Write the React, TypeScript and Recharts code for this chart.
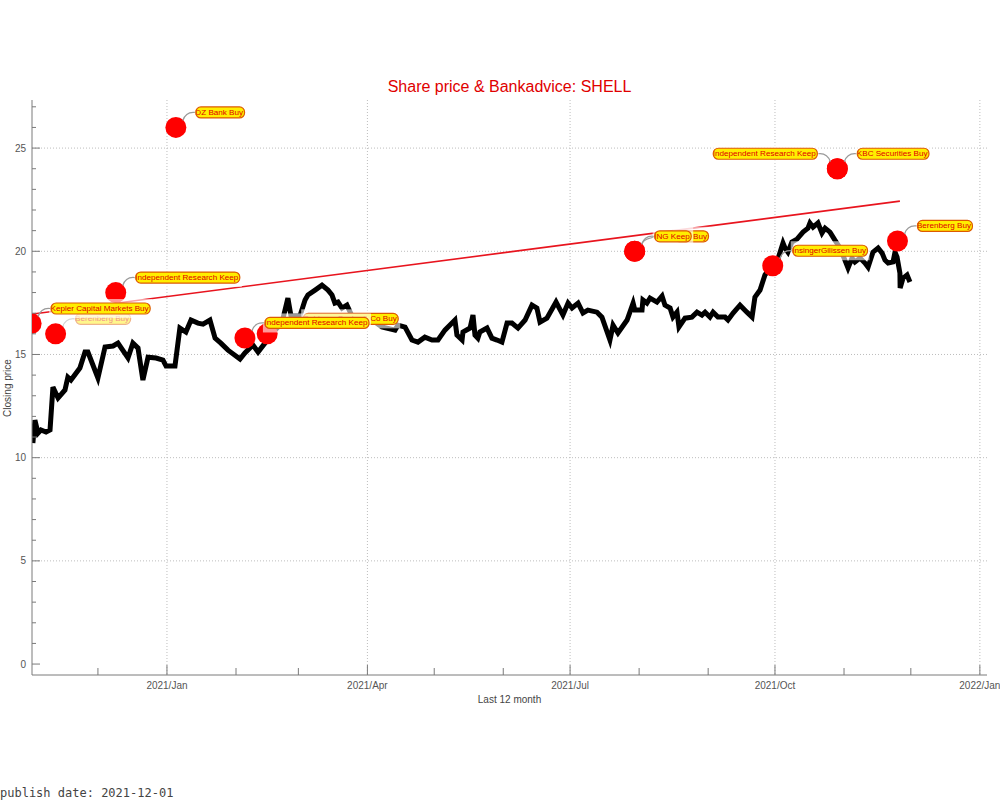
import {
  CartesianGrid,
  ComposedChart,
  Line,
  Scatter,
  XAxis,
  YAxis,
} from 'recharts';

// x values are days counted from 2021-01-01
const X_MIN = -60.6;
const X_MAX = 368.2;
const Y_MIN = -0.53;
const Y_MAX = 27.33;

const MONTH_TICKS = [-31, 0, 31, 59, 90, 120, 151, 181, 212, 243, 273, 304, 334, 365];
const MAJOR_X = [0, 90, 181, 273, 365];
const MAJOR_X_LABELS = ['2021/Jan', '2021/Apr', '2021/Jul', '2021/Oct', '2022/Jan'];
const Y_TICKS = Array.from({ length: 28 }, (_, i) => i);
const Y_GRID = [5, 10, 15, 20, 25];

// closing price
const PRICE_DAY = [
  -60.2, -59.3, -57.9, -56.6, -54.3, -52.5, -51.2, -48.9, -45.8, -44.5,
  -43.1, -39.1, -36.8, -35.5, -31.0, -27.8, -24.2, -22.0, -17.5, -15.3,
  -13.0, -10.8, -8.5, -4.9, -1.8, -0.4, 3.6, 5.8, 8.5, 10.8,
  13.9, 16.2, 19.3, 21.6, 24.2, 27.4, 32.8, 35.0, 38.6, 40.9,
  44.0, 48.5, 51.6, 54.3, 55.7, 59.7, 62.0, 63.3, 66.5, 69.6,
  72.3, 74.1, 75.4, 76.8, 78.6, 80.8, 83.1, 88.9, 92.1, 96.5,
  102.4, 103.7, 106.9, 110.0, 112.7, 115.8, 119.0, 121.7, 124.8, 129.3,
  130.2, 132.5, 132.9, 136.1, 137.4, 138.3, 139.6, 140.5, 143.7, 145.9,
  148.2, 150.4, 152.7, 154.9, 157.6, 160.8, 163.9, 166.1, 167.5, 170.6,
  174.7, 177.8, 180.1, 181.9, 184.6, 186.8, 189.0, 193.1, 195.3, 198.9,
  200.3, 202.5, 206.6, 209.3, 210.1, 213.3, 213.7, 215.5, 216.9, 220.0,
  222.3, 223.6, 225.9, 227.2, 229.0, 229.9, 232.6, 235.7, 238.0, 240.2,
  241.6, 243.8, 245.2, 247.4, 250.6, 251.9, 254.2, 257.3, 260.4, 262.7,
  264.0, 266.3, 268.5, 270.8, 273.9, 276.6, 277.5, 278.8, 280.6, 282.9,
  285.6, 287.8, 288.7, 290.1, 292.3, 294.1, 295.5, 297.7, 299.9, 302.2,
  304.4, 305.8, 307.6, 308.9, 311.2, 313.4, 314.8, 317.0, 319.3, 321.1,
  322.4, 323.8, 326.0, 326.9, 327.8, 329.1, 329.2, 330.5, 332.3, 333.6,
];
const PRICE_CLOSE = [
  10.71, 11.82, 11.19, 11.34, 11.24, 11.34, 13.42, 12.89, 13.28, 13.9,
  13.76, 14.34, 15.12, 15.12, 13.86, 15.36, 15.41, 15.55, 14.83, 15.55,
  15.31, 13.76, 14.87, 14.83, 14.73, 14.44, 14.44, 16.28, 16.09, 16.67,
  16.52, 16.47, 16.67, 15.79, 15.55, 15.21, 14.78, 15.07, 15.46, 15.12,
  15.55, 16.18, 16.52, 17.73, 16.86, 16.86, 17.64, 17.88, 18.12, 18.36,
  18.12, 17.88, 17.49, 17.54, 17.25, 17.39, 16.86, 16.76, 16.67, 16.33,
  16.18, 16.42, 16.33, 15.7, 15.6, 15.84, 15.7, 15.7, 16.18, 16.67,
  15.94, 15.7, 16.09, 16.28, 16.91, 15.94, 15.79, 16.09, 16.28, 15.79,
  15.7, 15.6, 16.52, 16.52, 16.28, 16.67, 17.39, 17.25, 16.57, 16.76,
  17.54, 16.91, 17.49, 17.25, 17.49, 17.01, 17.15, 17.05, 16.81, 15.7,
  16.42, 16.04, 16.67, 17.49, 17.15, 17.15, 17.64, 17.49, 17.73, 17.54,
  17.83, 17.39, 17.25, 16.81, 17.05, 16.33, 16.76, 16.81, 17.05, 16.91,
  17.05, 16.81, 17.05, 16.81, 16.81, 16.67, 17.01, 17.39, 17.05, 16.81,
  17.78, 18.12, 18.85, 19.19, 19.48, 20.4, 20.16, 19.96, 20.45, 20.59,
  20.93, 21.12, 21.37, 21.17, 21.37, 20.88, 21.12, 20.93, 20.54, 20.16,
  19.57, 19.19, 19.67, 19.48, 19.67, 19.43, 19.23, 19.96, 20.16, 19.91,
  19.57, 19.43, 19.48, 19.96, 19.72, 18.94, 18.22, 18.7, 18.85, 18.51,
];

// trend of the price targets
const TREND_DAY = [-60.2, 329.1];
const TREND_VALUE = [16.96, 22.43];

// bank advice: date, price target, text
const ADVICE_DATE = [
  '2020-11-01', '2020-11-12', '2020-12-09', '2021-01-05', '2021-02-05', '2021-02-15',
  '2021-07-30', '2021-07-30', '2021-09-30', '2021-10-29', '2021-10-29', '2021-11-25',
];
const ADVICE_TARGET = [16.5, 16.0, 18.0, 26.0, 15.8, 16.0, 20.0, 20.0, 19.3, 24.0, 24.0, 20.5];
const ADVICE_TEXT = [
  'Kepler Capital Markets Buy', 'Berenberg Buy', 'Independent Research Keep', 'DZ Bank Buy',
  'Independent Research Keep', 'Goldman Sachs & Co Buy', 'ING Keep', 'UBS Buy',
  'InsingerGilissen Buy', 'Independent Research Keep', 'KBC Securities Buy', 'Berenberg Buy',
];

// label placement: drawing order, side of the callout, sideways shift, faded labels
const LABEL_ORDER = [1, 0, 2, 3, 5, 4, 7, 6, 8, 9, 10, 11];
const LABEL_SIDE: Record<number, number> = { 9: -1 };
const LABEL_SHIFT: Record<number, number> = { 5: 16, 7: 20 };
const LABEL_FADED: Record<number, boolean> = { 1: true };

const FRAME = '#7a7a7a';
const TICK_TEXT = '#555';
const LABEL_FONT = 8.1;

const dayOf = (iso: string) => (Date.parse(iso) - Date.parse('2021-01-01')) / 864e5;

const priceData = PRICE_DAY.map((d, i) => ({ day: d, price: PRICE_CLOSE[i] }));
const trendData = TREND_DAY.map((d, i) => ({ day: d, trend: TREND_VALUE[i] }));
const adviceData = ADVICE_DATE.map((d, i) => ({
  day: dayOf(d),
  target: ADVICE_TARGET[i],
  text: ADVICE_TEXT[i],
  idx: i,
}));
const labelData = LABEL_ORDER.map((i) => adviceData[i]);

let measureCtx: CanvasRenderingContext2D | null = null;
function textWidth(s: string): number {
  if (!measureCtx) measureCtx = document.createElement('canvas').getContext('2d');
  if (!measureCtx) return s.length * 4.5;
  measureCtx.font = `${LABEL_FONT}px "Liberation Sans"`;
  return measureCtx.measureText(s).width;
}

function BottomTick({ x, y, payload }: any) {
  const v = payload.value;
  const k = MAJOR_X.indexOf(v);
  return (
    <g>
      <line x1={x} x2={x} y1={y} y2={y - (k >= 0 ? 10 : 7)} stroke={FRAME} />
      {k >= 0 && (
        <text x={x} y={y + 10} textAnchor="middle" dominantBaseline="central" fontSize={10} fill={TICK_TEXT}>
          {MAJOR_X_LABELS[k]}
        </text>
      )}
    </g>
  );
}

function TopTick({ x, y, payload }: any) {
  const major = MAJOR_X.includes(payload.value);
  return <line x1={x} x2={x} y1={y} y2={y + (major ? 10 : 7)} stroke={FRAME} />;
}

function LeftTick({ x, y, payload }: any) {
  const v = payload.value;
  const major = v % 5 === 0;
  return (
    <g>
      <line x1={x} x2={x + (major ? 8 : 4)} y1={y} y2={y} stroke={FRAME} />
      {major && (
        <text x={x - 6} y={y} textAnchor="end" dominantBaseline="central" fontSize={10} fill={TICK_TEXT}>
          {v}
        </text>
      )}
    </g>
  );
}

function RightTick({ x, y, payload }: any) {
  const major = payload.value % 5 === 0;
  return <line x1={x} x2={x - (major ? 8 : 4)} y1={y} y2={y} stroke={FRAME} />;
}

function AdviceDot({ cx, cy }: any) {
  return <circle cx={cx} cy={cy} r={10.5} fill="#ff0000" />;
}

function AdviceLabel({ cx, cy, payload }: any) {
  const side = LABEL_SIDE[payload.idx] ?? 1;
  const shift = LABEL_SHIFT[payload.idx] ?? 0;
  const w = textWidth(payload.text) + 1;
  const h = 11;
  const ly = cy - 15;
  const left = side > 0 ? cx + 20 + shift : cx - 20 - w;
  const edge = side > 0 ? left : left + w;
  const sx = cx + side * 7;
  const sy = cy - 7;
  return (
    <g opacity={LABEL_FADED[payload.idx] ? 0.45 : 1}>
      <rect x={left - 2} y={ly - h / 2 - 4} width={w + 4} height={h + 8} fill="#fff" fillOpacity={0.6} />
      <path
        d={`M${sx},${sy} Q${cx + side * 10},${ly - 1} ${edge - side * 1},${ly}`}
        stroke="#9a9a9a"
        strokeWidth={1.2}
        fill="none"
      />
      <rect x={left} y={ly - h / 2} width={w} height={h} rx={5} fill="#ffee00" />
      <text
        x={left - 0.5}
        y={ly}
        dominantBaseline="central"
        fontSize={LABEL_FONT}
        fontFamily="'Liberation Sans', Arial, sans-serif"
        fill="#e00000"
      >
        {payload.text}
      </text>
      <rect x={left} y={ly - h / 2} width={w} height={h} rx={5} fill="none" stroke="#dd5a00" strokeWidth={1.2} />
    </g>
  );
}

export default function App() {
  const font = "'Liberation Sans', Arial, sans-serif";
  return (
    <div style={{ position: 'absolute', left: 0, top: 0, width: 1000, height: 800, background: '#fff', fontFamily: font }}>
      <ComposedChart width={1000} height={800} margin={{ top: 100, right: 13, bottom: 95, left: 0 }}>
        <CartesianGrid
          stroke="#bdbdbd"
          strokeDasharray="1 2"
          horizontalValues={Y_GRID}
          verticalValues={MAJOR_X}
        />
        <XAxis
          xAxisId={0}
          dataKey="day"
          type="number"
          domain={[X_MIN, X_MAX]}
          allowDataOverflow
          ticks={MONTH_TICKS}
          interval={0}
          tickSize={0}
          tickMargin={0}
          tickLine={false}
          tick={(p: any) => <BottomTick {...p} />}
          axisLine={{ stroke: FRAME }}
          height={30}
        />
        <XAxis
          xAxisId="top"
          orientation="top"
          dataKey="day"
          type="number"
          domain={[X_MIN, X_MAX]}
          allowDataOverflow
          ticks={MONTH_TICKS}
          interval={0}
          tickSize={0}
          tickMargin={0}
          tickLine={false}
          tick={(p: any) => <TopTick {...p} />}
          axisLine={{ stroke: FRAME }}
          height={0}
        />
        <YAxis
          yAxisId={0}
          type="number"
          domain={[Y_MIN, Y_MAX]}
          allowDataOverflow
          ticks={Y_TICKS}
          interval={0}
          tickSize={0}
          tickMargin={0}
          tickLine={false}
          tick={(p: any) => <LeftTick {...p} />}
          axisLine={{ stroke: FRAME }}
          width={32}
        />
        <YAxis
          yAxisId="right"
          orientation="right"
          type="number"
          domain={[Y_MIN, Y_MAX]}
          allowDataOverflow
          ticks={Y_TICKS}
          interval={0}
          tickSize={0}
          tickMargin={0}
          tickLine={false}
          tick={(p: any) => <RightTick {...p} />}
          axisLine={{ stroke: FRAME }}
          width={0}
        />
        <Line
          data={trendData}
          dataKey="trend"
          stroke="#e8141e"
          strokeWidth={1.6}
          dot={false}
          isAnimationActive={false}
        />
        <Line
          data={priceData}
          dataKey="price"
          stroke="#000"
          strokeWidth={5}
          strokeLinejoin="miter"
          dot={false}
          isAnimationActive={false}
        />
        <Scatter data={adviceData} dataKey="target" shape={(p: any) => <AdviceDot {...p} />} isAnimationActive={false} />
        <Scatter data={labelData} dataKey="target" shape={(p: any) => <AdviceLabel {...p} />} isAnimationActive={false} />
      </ComposedChart>

      <div style={{ position: 'absolute', left: 32, width: 955, top: 77, textAlign: 'center', fontSize: 16, lineHeight: '20px', color: '#e00000' }}>
        Share price &amp; Bankadvice: SHELL
      </div>
      <div style={{ position: 'absolute', left: 32, width: 955, top: 694, textAlign: 'center', fontSize: 10, lineHeight: '12px', color: '#444' }}>
        Last 12 month
      </div>
      <div
        style={{
          position: 'absolute',
          left: 8,
          top: 388,
          transform: 'translate(-50%, -50%) rotate(-90deg)',
          fontSize: 10,
          lineHeight: '12px',
          color: '#444',
          whiteSpace: 'nowrap',
        }}
      >
        Closing price
      </div>
      <div
        style={{
          position: 'absolute',
          left: 0,
          top: 786,
          fontFamily: "'DejaVu Sans Mono', monospace",
          fontSize: 12,
          lineHeight: '14px',
          color: '#444',
          whiteSpace: 'nowrap',
        }}
      >
        publish date: 2021-12-01
      </div>
    </div>
  );
}
